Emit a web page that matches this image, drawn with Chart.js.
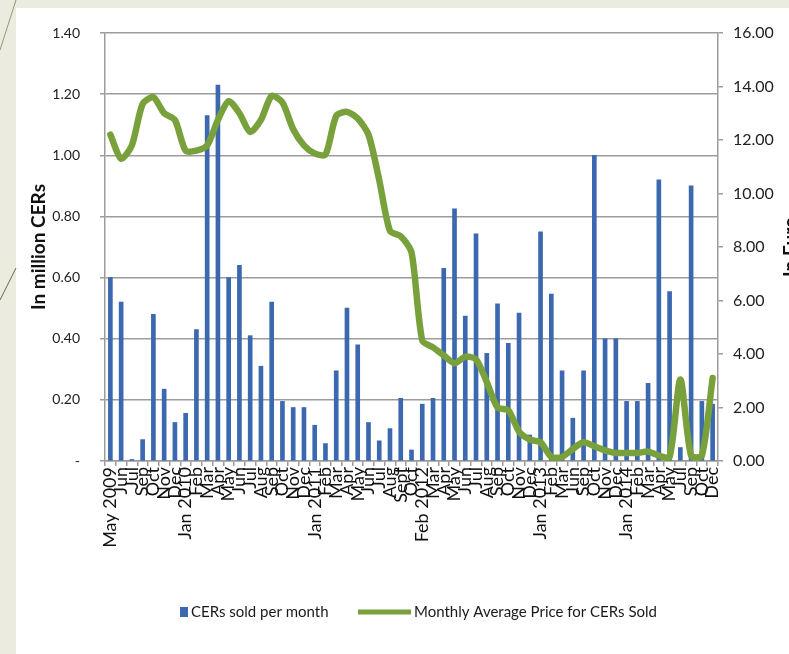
<!DOCTYPE html>
<html>
<head>
<meta charset="utf-8">
<script src="https://cdn.jsdelivr.net/npm/chart.js@4.4.0/dist/chart.umd.min.js"></script>
<style>
  html, body { margin: 0; padding: 0; }
  body { width: 789px; height: 654px; overflow: hidden; background: #ecebdf; position: relative; }
  #panel { position: absolute; left: 16px; top: 8px; right: 0; bottom: 0; background: #ffffff; }
  #deco { position: absolute; left: 0; top: 0; }
  #wrap { position: absolute; left: 0; top: 0; width: 805px; height: 654px; }
</style>
</head>
<body>
<div id="panel"></div>
<svg id="deco" width="30" height="320">
  <line x1="0" y1="50" x2="16" y2="0" stroke="#8f9a7a" stroke-width="1"/>
  <line x1="0" y1="300" x2="16" y2="268" stroke="#5f6f4a" stroke-width="1"/>
</svg>
<div id="wrap"><canvas id="myChart" width="805" height="654"></canvas></div>
<script>
// Data block
const months = [
  "May 2009", "Jun", "Jul", "Sep", "Oct", "Nov", "Dec",
  "Jan 2010", "Feb", "Mar", "Apr", "May", "Jun", "Jul", "Aug", "Sep", "Oct", "Nov", "Dec",
  "Jan 2011", "Feb", "Mar", "Apr", "May", "Jun", "Jul", "Aug", "Sept", "Oct",
  "Feb 2012", "Mar", "Apr", "May", "Jun", "Jul", "Aug", "Sep", "Oct", "Nov", "Dec",
  "Jan 2013", "Feb", "Mar", "Jun", "Sep", "Oct", "Nov", "Dec",
  "Jan 2014", "Feb", "Mar", "Apr", "May", "Jul", "Sep", "Oct", "Dec"
];

// million CERs sold per month
const cersSold = [
  0.60, 0.52, 0.005, 0.07, 0.48, 0.235, 0.126, 0.156, 0.43, 1.13,
  1.23, 0.60, 0.64, 0.41, 0.31, 0.52, 0.195, 0.175, 0.175, 0.117,
  0.057, 0.295, 0.50, 0.38, 0.126, 0.066, 0.106, 0.205, 0.036, 0.186,
  0.205, 0.63, 0.825, 0.474, 0.743, 0.352, 0.514, 0.385, 0.484, 0.085,
  0.75, 0.546, 0.295, 0.14, 0.295, 1.00, 0.40, 0.40, 0.195, 0.195,
  0.254, 0.92, 0.554, 0.044, 0.90, 0.195, 0.186
];

// Euro, monthly average price
const avgPrice = [
  12.2, 11.3, 11.8, 13.35, 13.6, 13.0, 12.75, 11.6, 11.6, 11.8,
  12.75, 13.45, 13.0, 12.3, 12.75, 13.65, 13.4, 12.4, 11.8, 11.5,
  11.45, 12.9, 13.05, 12.8, 12.2, 10.5, 8.6, 8.4, 7.8, 4.5,
  4.25, 3.95, 3.65, 3.9, 3.8, 2.95, 2.0, 1.9, 1.1, 0.8,
  0.7, 0.15, 0.15, 0.45, 0.7, 0.55, 0.4, 0.3, 0.3, 0.3,
  0.35, 0.2, 0.15, 3.05, 0.2, 0.2, 3.1
];

const barLabel = "CERs sold per month";
const lineLabel = "Monthly Average Price for CERs Sold";
const leftTitle = "In million CERs";
const rightTitle = "In Euro";

const BLUE = "#3b68ae";
const GREEN = "#78a13b";
const GRID = "#9c9c9c";
const FONT = "Lato, 'Open Sans', sans-serif";

// legend at the bottom + right axis title reading upwards (Excel style)
const extras = {
  id: "extras",
  afterDraw(chart) {
    const ctx = chart.ctx;
    const y = 612;
    ctx.save();
    ctx.fillStyle = BLUE;
    ctx.fillRect(180, y - 5, 8, 10);
    ctx.strokeStyle = GREEN;
    ctx.lineWidth = 5;
    ctx.beginPath();
    ctx.moveTo(358, y);
    ctx.lineTo(411, y);
    ctx.stroke();
    ctx.fillStyle = "#1a1a1a";
    ctx.font = "15px " + FONT;
    ctx.textBaseline = "middle";
    ctx.fillText(barLabel, 191, y);
    ctx.fillText(lineLabel, 414, y);

    const area = chart.chartArea;
    ctx.translate(791, (area.top + area.bottom) / 2);
    ctx.rotate(-Math.PI / 2);
    ctx.textAlign = "center";
    ctx.textBaseline = "middle";
    ctx.fillStyle = "#111111";
    ctx.font = "bold 19px " + FONT;
    ctx.fillText(rightTitle, 0, 0);
    ctx.restore();
  },
};

function mainChart() {
  const data = {
    labels: months,
    datasets: [
      {
        type: "line",
        label: lineLabel,
        data: avgPrice,
        yAxisID: "yPrice",
        borderColor: GREEN,
        borderWidth: 6.5,
        borderJoinStyle: "round",
        borderCapStyle: "round",
        tension: 0.25,
        pointRadius: 0,
        fill: false,
        order: 0,
      },
      {
        type: "bar",
        label: barLabel,
        data: cersSold,
        yAxisID: "yCers",
        backgroundColor: BLUE,
        barThickness: 4,
        order: 1,
      },
    ],
  };

  const options = {
    responsive: false,
    animation: false,
    layout: {
      padding: { top: 33, left: 0, right: 0, bottom: 0 },
    },
    plugins: {
      legend: { display: false },
      tooltip: { enabled: false },
    },
    scales: {
      x: {
        offset: true,
        grid: {
          offset: true,
          drawOnChartArea: false,
          tickLength: 5,
          color: GRID,
          lineWidth: 1.5,
        },
        border: { color: GRID, width: 1.5 },
        ticks: {
          autoSkip: false,
          maxRotation: 90,
          minRotation: 90,
          padding: 1,
          color: "#111111",
          font: { family: FONT, size: 18 },
        },
        afterFit: function (scale) {
          scale.height = 193;
        },
      },
      yCers: {
        position: "left",
        min: 0,
        max: 1.4,
        ticks: {
          stepSize: 0.2,
          padding: 20,
          color: "#222222",
          font: { family: FONT, size: 14 },
          callback: function (value) {
            return value === 0 ? "-" : value.toFixed(2);
          },
        },
        grid: {
          color: GRID,
          lineWidth: 1.5,
          tickLength: 5,
        },
        border: { color: GRID, width: 1.5 },
        title: {
          display: true,
          text: leftTitle,
          color: "#111111",
          font: { family: FONT, size: 19, weight: "bold" },
          padding: { top: 27, bottom: 0 },
        },
        afterFit: function (scale) {
          scale.width = 105;
        },
      },
      yPrice: {
        position: "right",
        min: 0,
        max: 16,
        ticks: {
          stepSize: 2,
          padding: 10,
          color: "#222222",
          font: { family: FONT, size: 16 },
          callback: function (value) {
            return value.toFixed(2);
          },
        },
        grid: {
          drawOnChartArea: false,
          color: GRID,
          lineWidth: 1.5,
          tickLength: 5,
        },
        border: { color: GRID, width: 1.5 },
        afterFit: function (scale) {
          scale.width = 87;
        },
      },
    },
  };

  const config = {
    data: data,
    options: options,
    plugins: [extras],
  };

  const myChart = new Chart(document.getElementById("myChart"), config);
}

mainChart();
</script>
</body>
</html>
